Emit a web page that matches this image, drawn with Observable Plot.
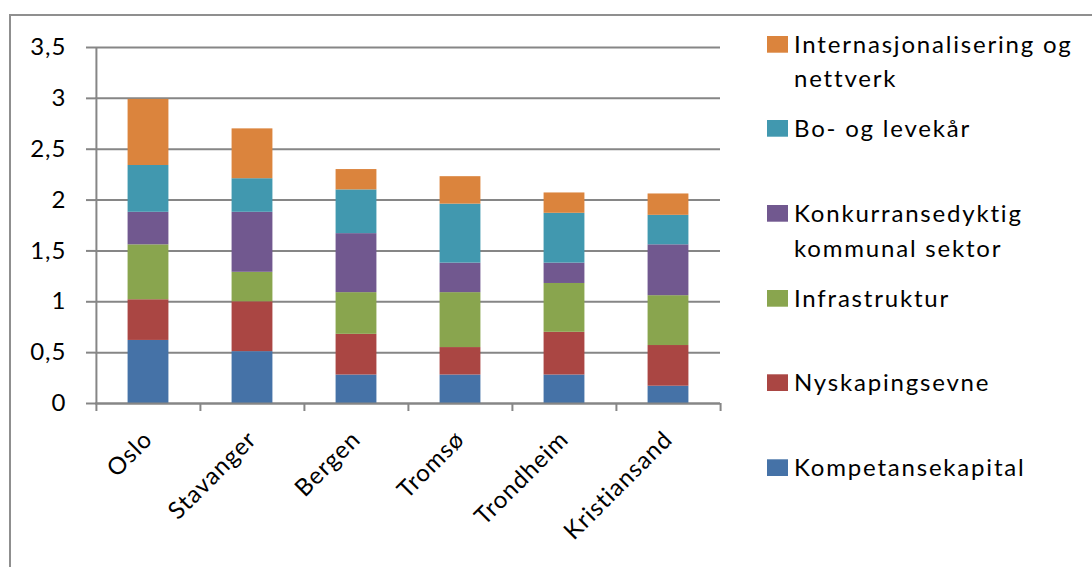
<!DOCTYPE html>
<html>
<head>
<meta charset="utf-8">
<script src="https://cdn.jsdelivr.net/npm/d3@7"></script>
<script src="https://cdn.jsdelivr.net/npm/@observablehq/plot@0.6"></script>
<style>
  html, body { margin: 0; padding: 0; background: #fff; overflow: hidden; width: 1092px; height: 567px; }
  #wrap { position: relative; width: 1092px; height: 567px; }
  #border { position: absolute; left: 9px; top: 14px; width: 1200px; height: 700px; border: 2px solid #8f8f8f; box-sizing: border-box; }
  #chart { position: absolute; left: 0; top: 0; }
  #legend { position: absolute; left: 0; top: 0; }
  #chart svg text { letter-spacing: 1px; }
</style>
</head>
<body>
<div id="wrap">
  <div id="border"></div>
  <div id="chart"></div>
  <svg id="legend" width="1092" height="567"></svg>
</div>
<script>
const cities = ["Oslo", "Stavanger", "Bergen", "Tromsø", "Trondheim", "Kristiansand"];
// series, bottom to top
const seriesNames = ["Kompetansekapital", "Nyskapingsevne", "Infrastruktur", "Konkurransedyktig kommunal sektor", "Bo- og levekår", "Internasjonalisering og nettverk"];
const kompetansekapital = [0.62, 0.51, 0.28, 0.28, 0.28, 0.17];
const nyskapingsevne    = [0.40, 0.49, 0.40, 0.27, 0.42, 0.40];
const infrastruktur     = [0.54, 0.29, 0.41, 0.54, 0.48, 0.49];
const konkurranse       = [0.32, 0.59, 0.58, 0.29, 0.20, 0.50];
const boLevekar         = [0.46, 0.33, 0.43, 0.58, 0.49, 0.29];
const internasjonal     = [0.65, 0.49, 0.20, 0.27, 0.20, 0.21];
const seriesColors = ["#4572A7", "#AA4643", "#89A54E", "#71588F", "#4198AF", "#DB843D"];
const legendLines = [["Internasjonalisering og", "nettverk"], ["Bo- og levekår"], ["Konkurransedyktig", "kommunal sektor"], ["Infrastruktur"], ["Nyskapingsevne"], ["Kompetansekapital"]];
const yTicks = [0, 0.5, 1, 1.5, 2, 2.5, 3, 3.5];

const seriesValues = [kompetansekapital, nyskapingsevne, infrastruktur, konkurranse, boLevekar, internasjonal];
const data = [];
seriesNames.forEach((s, i) => cities.forEach((c, j) => data.push({city: c, series: s, value: seriesValues[i][j]})));

const FONT = "Lato, 'Open Sans', sans-serif";
const W = 740, H = 567, ML = 95, MR = 20, MT = 47, MB = 164;
const bw = (W - ML - MR) / cities.length;
const grey = "#868686";
const fmt = d => String(d).replace(".", ",");

const chart = Plot.plot({
  width: W, height: H,
  marginLeft: ML, marginRight: MR, marginTop: MT, marginBottom: MB,
  style: {fontFamily: FONT, fontSize: "24px", color: "#000", background: "transparent", overflow: "visible"},
  x: {domain: cities, padding: 0, label: null},
  y: {domain: [0, 3.5], ticks: yTicks, label: null},
  color: {domain: seriesNames, range: seriesColors},
  marks: [
    Plot.gridY(yTicks, {stroke: grey, strokeOpacity: 1, strokeWidth: 2}),
    Plot.barY(data, {x: "city", y: "value", fill: "series", insetLeft: (bw - 41) / 2, insetRight: (bw - 41) / 2}),
    Plot.ruleY([0], {stroke: grey, strokeWidth: 2}),
    Plot.ruleX([cities[0]], {dx: -bw / 2, y1: 0, y2: 3.5, stroke: grey, strokeWidth: 2}),
    Plot.axisY(yTicks, {tickSize: 9, tickPadding: 20, tickFormat: fmt, stroke: grey, strokeWidth: 2, fill: "#000", fontSize: 24, label: null}),
    Plot.axisX({tickSize: 8, tickFormat: () => "", dx: -bw / 2, stroke: grey, strokeWidth: 2, label: null}),
    Plot.axisX([cities[cities.length - 1]], {tickSize: 8, tickFormat: () => "", dx: bw / 2, stroke: grey, strokeWidth: 2, label: null}),
    Plot.axisX({tickSize: 0, tickPadding: 32, tickRotate: -45, fill: "#000", fontSize: 24, label: null})
  ]
});
document.getElementById("chart").appendChild(chart);

// legend (top to bottom)
const legendBaselines = [[52.7, 87.3], [136.7], [221.7, 256.7], [306.7], [391], [476]];
const legendColors = seriesColors.slice().reverse();
const lg = d3.select("#legend");
legendLines.forEach((lines, i) => {
  const b = legendBaselines[i];
  lg.append("rect").attr("x", 767).attr("y", b[0] - 16.7).attr("width", 21).attr("height", 16.7).attr("fill", legendColors[i]);
  lines.forEach((t, k) => {
    lg.append("text").attr("x", 794).attr("y", b[k]).attr("font-family", FONT).attr("font-size", 24)
      .attr("letter-spacing", "1.8px").attr("fill", "#000").text(t);
  });
});
</script>
</body>
</html>
